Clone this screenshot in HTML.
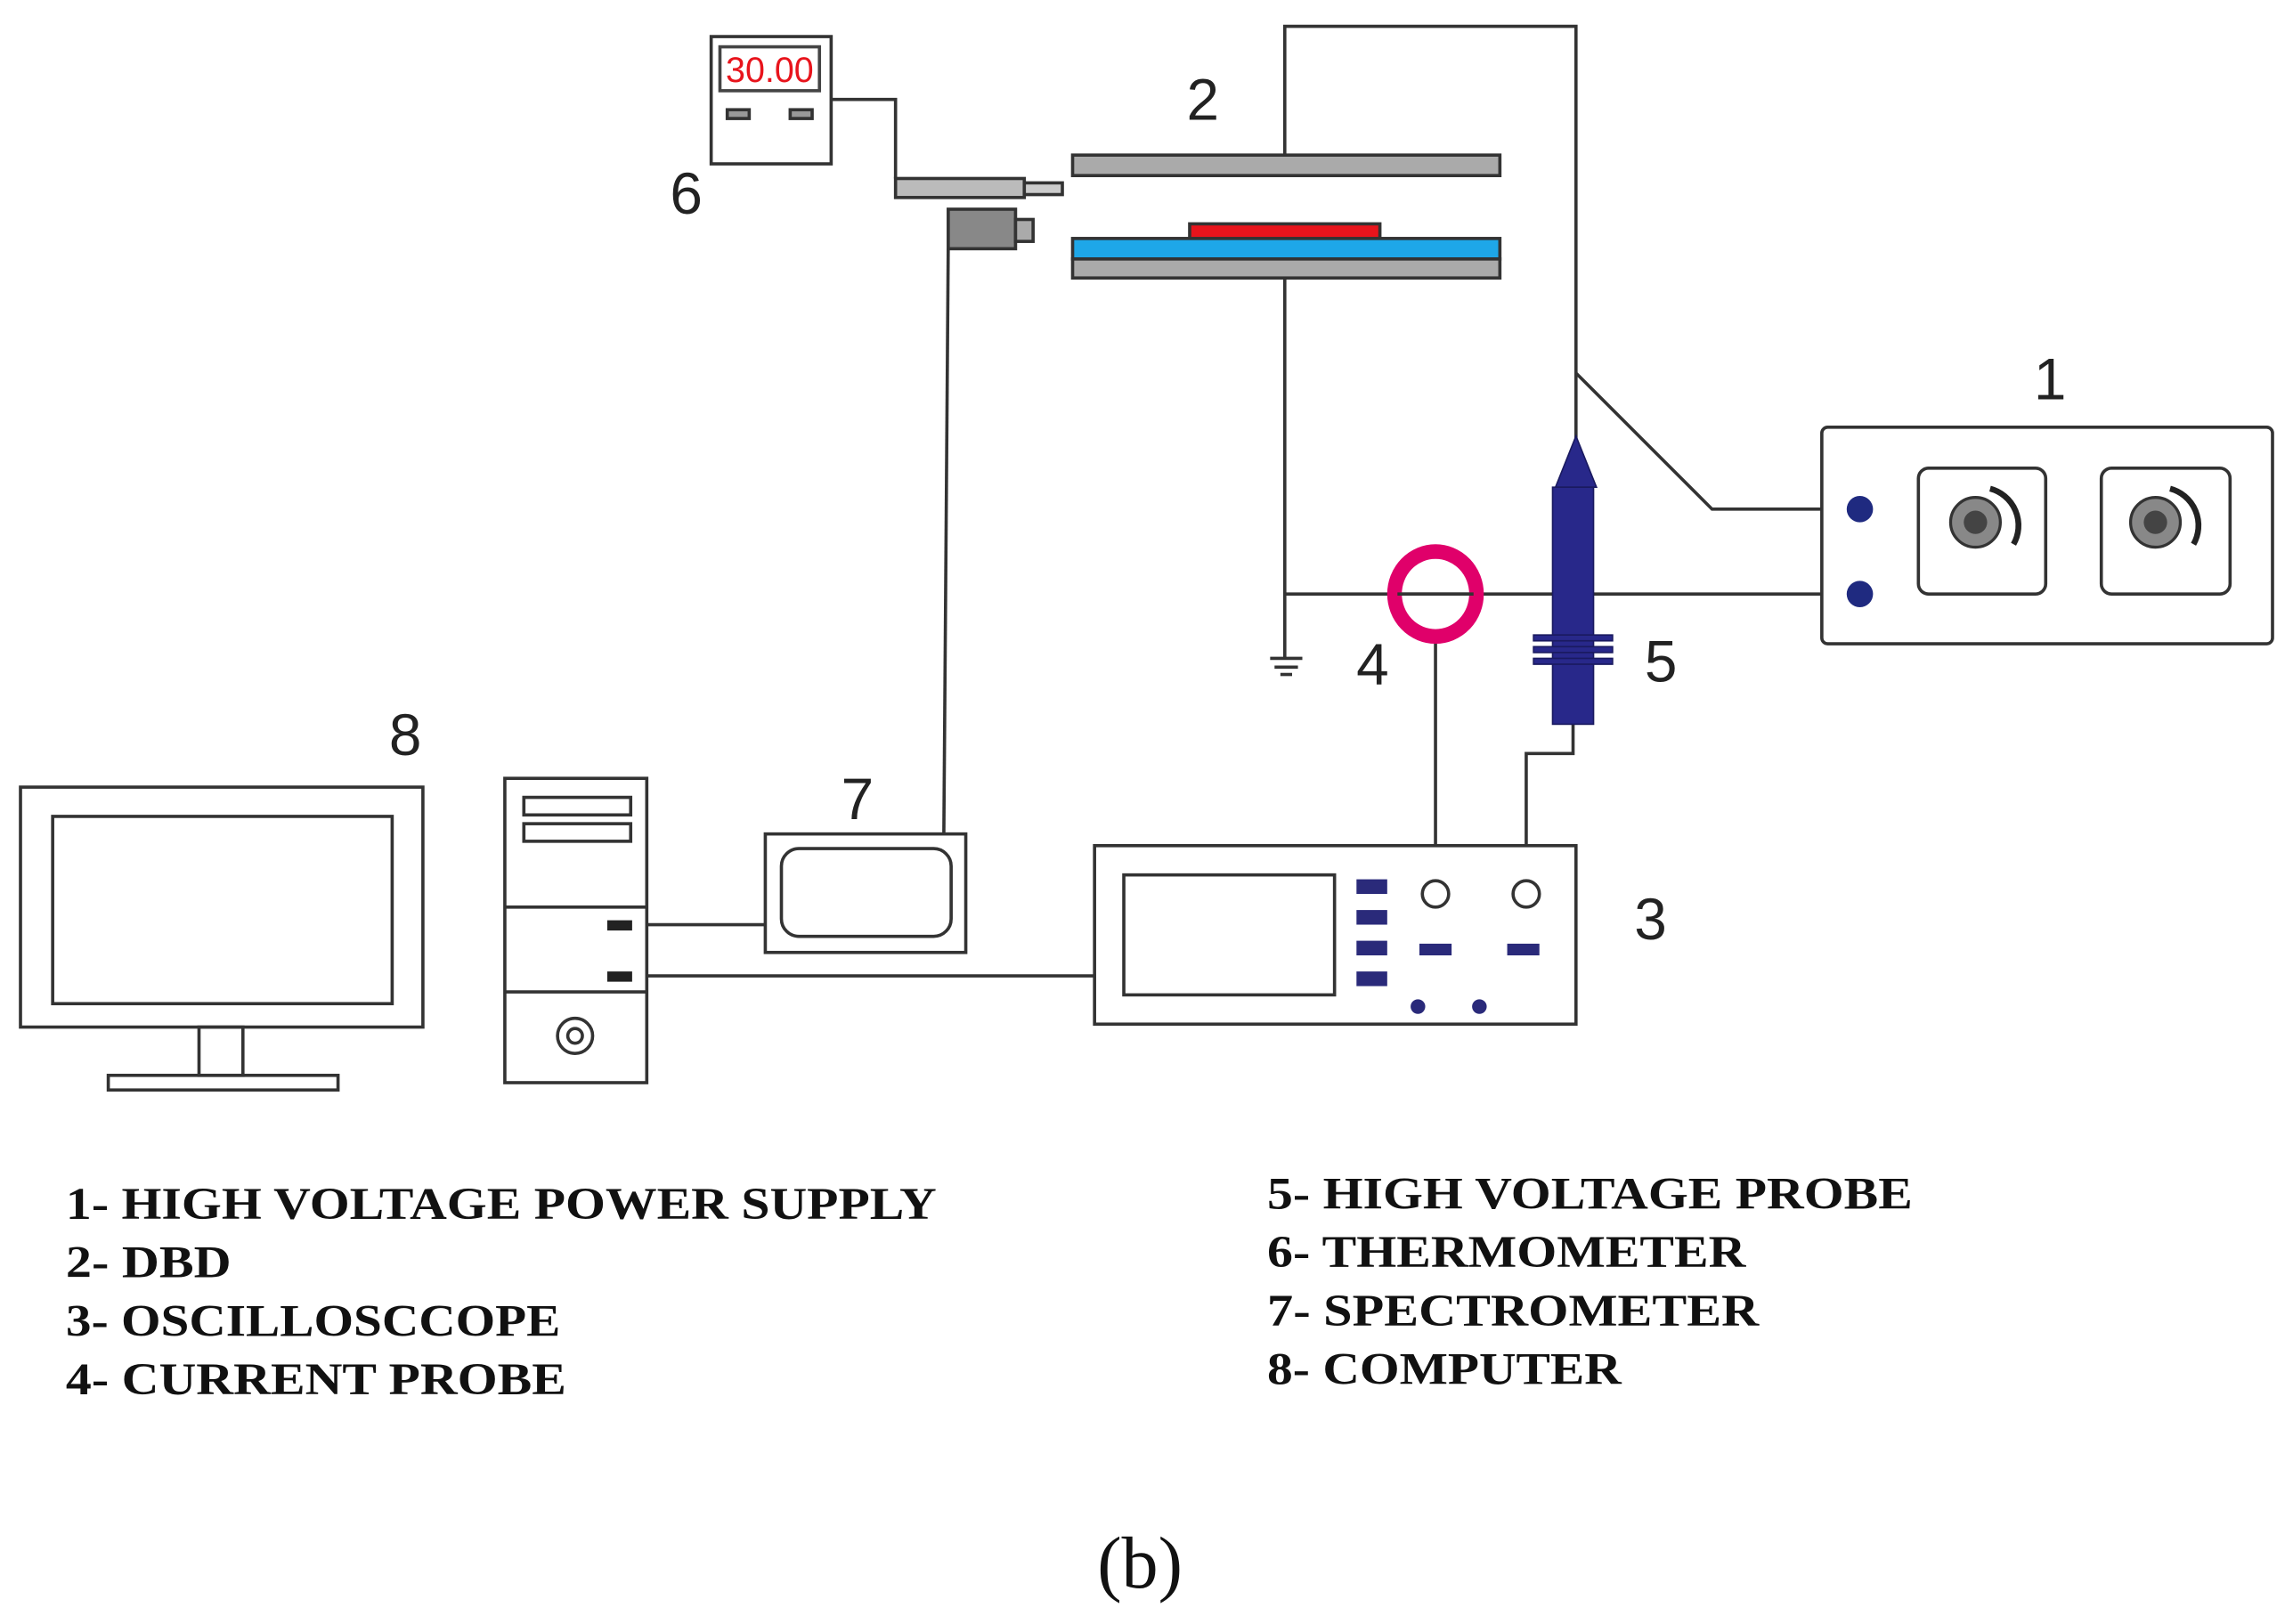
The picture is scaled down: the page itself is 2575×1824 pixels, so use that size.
<!DOCTYPE html>
<html><head><meta charset="utf-8"><style>html,body{margin:0;padding:0;background:#fff}svg{display:block}</style></head>
<body>
<svg width="2575" height="1824" viewBox="0 0 1567 1110" preserveAspectRatio="none" xmlns="http://www.w3.org/2000/svg">
<rect width="1567" height="1110" fill="#fff"/>
<g fill="none" stroke="#333" stroke-width="2.2">
<rect x="486" y="25" width="82" height="87" fill="#fff"/>
<rect x="492" y="32" width="68" height="30" fill="#fff" stroke="#444"/>
<rect x="497" y="75" width="15" height="6" fill="#999"/>
<rect x="540" y="75" width="15" height="6" fill="#999"/>
<polyline points="568,68 612,68 612,122"/>
<rect x="612" y="122" width="88" height="13" fill="#bbb"/>
<rect x="700" y="125" width="26" height="8" fill="#ccc"/>
<rect x="648" y="143" width="46" height="27" fill="#888"/>
<rect x="694" y="150" width="12" height="15" fill="#aaa"/>
<line x1="648" y1="170" x2="645" y2="570"/>
<rect x="733" y="106" width="292" height="14" fill="#aaa"/>
<rect x="813" y="153" width="130" height="11" fill="#e8141c" stroke="#333"/>
<rect x="733" y="163" width="292" height="14" fill="#1ea7e8"/>
<rect x="733" y="177" width="292" height="13" fill="#aaa"/>
<polyline points="878,106 878,18 1077,18 1077,255 1170,348 1262,348"/>
<line x1="1077" y1="255" x2="1077" y2="300"/>
<line x1="878" y1="190" x2="878" y2="450"/>
<line x1="868" y1="450" x2="890" y2="450"/>
<line x1="871" y1="456" x2="887" y2="456"/>
<line x1="875" y1="461" x2="883" y2="461"/>
<line x1="878" y1="406" x2="1262" y2="406"/>
<line x1="981" y1="436" x2="981" y2="602"/>
<ellipse cx="981" cy="406" rx="28" ry="29" stroke="#e0006a" stroke-width="10"/>
<line x1="955" y1="406" x2="1007" y2="406"/>
<polyline points="1075,495 1075,515 1043,515 1043,602"/>
<rect x="1245" y="292" width="308" height="148" rx="4" fill="#fff"/>
<rect x="1311" y="320" width="87" height="86" rx="7" fill="#fff"/>
<rect x="1436" y="320" width="88" height="86" rx="7" fill="#fff"/>
<rect x="748" y="578" width="329" height="122" fill="#fff"/>
<rect x="768" y="598" width="144" height="82" fill="#fff"/>
<circle cx="981" cy="611" r="9" fill="#fff"/>
<circle cx="1043" cy="611" r="9" fill="#fff"/>
<rect x="523" y="570" width="137" height="81" fill="#fff"/>
<rect x="534" y="580" width="116" height="60" rx="12" fill="#fff"/>
<line x1="443" y1="632" x2="523" y2="632"/>
<line x1="443" y1="667" x2="748" y2="667"/>
<rect x="345" y="532" width="97" height="208" fill="#fff"/>
<rect x="358" y="545" width="73" height="12"/>
<rect x="358" y="563" width="73" height="12"/>
<line x1="345" y1="620" x2="442" y2="620"/>
<line x1="345" y1="678" x2="442" y2="678"/>
<circle cx="393" cy="708" r="12"/>
<circle cx="393" cy="708" r="5"/>
<rect x="14" y="538" width="275" height="164" fill="#fff"/>
<rect x="36" y="558" width="232" height="128"/>
<rect x="136" y="702" width="30" height="33"/>
<rect x="74" y="735" width="157" height="10"/>
</g>
<text x="526" y="56" font-family="Liberation Sans, sans-serif" font-size="24" fill="#e8141c" text-anchor="middle">30.00</text>
<g fill="#222">
<rect x="415" y="629" width="17" height="7"/>
<rect x="415" y="664" width="17" height="7"/>
<rect x="970" y="645" width="22" height="8" fill="#2a2a7a"/>
<rect x="1030" y="645" width="22" height="8" fill="#2a2a7a"/>
<rect x="927" y="601" width="21" height="10" fill="#2a2a7a"/>
<rect x="927" y="622" width="21" height="10" fill="#2a2a7a"/>
<rect x="927" y="643" width="21" height="10" fill="#2a2a7a"/>
<rect x="927" y="664" width="21" height="10" fill="#2a2a7a"/>
<circle cx="969" cy="688" r="5" fill="#2a2a7a"/>
<circle cx="1011" cy="688" r="5" fill="#2a2a7a"/>
<circle cx="1271" cy="348" r="9" fill="#1f2a80"/>
<circle cx="1271" cy="406" r="9" fill="#1f2a80"/>
</g>
<g>
<circle cx="1350" cy="357" r="17" fill="#888" stroke="#333" stroke-width="2"/>
<circle cx="1350" cy="357" r="8" fill="#444"/>
<path d="M1360,334 A26,26 0 0 1 1376,372" fill="none" stroke="#222" stroke-width="4"/>
<circle cx="1473" cy="357" r="17" fill="#888" stroke="#333" stroke-width="2"/>
<circle cx="1473" cy="357" r="8" fill="#444"/>
<path d="M1483,334 A26,26 0 0 1 1499,372" fill="none" stroke="#222" stroke-width="4"/>
</g>
<g fill="#28288a" stroke="#1a1a60" stroke-width="1">
<polygon points="1063,333 1077,298 1091,333"/>
<rect x="1061" y="333" width="28" height="162"/>
<rect x="1048" y="434" width="54" height="4"/>
<rect x="1048" y="442" width="54" height="4"/>
<rect x="1048" y="450" width="54" height="4"/>
</g>
<g font-family="Liberation Sans, sans-serif" font-size="40" fill="#222" text-anchor="middle">
<text x="822" y="82">2</text>
<text x="469" y="146">6</text>
<text x="1401" y="273">1</text>
<text x="938" y="468">4</text>
<text x="1135" y="466">5</text>
<text x="1128" y="642">3</text>
<text x="586" y="560">7</text>
<text x="277" y="516">8</text>
</g>
<g font-family="Liberation Serif, serif" font-weight="bold" font-size="31" fill="#111">
<text x="45" y="833" textLength="595" lengthAdjust="spacingAndGlyphs">1- HIGH VOLTAGE POWER SUPPLY</text>
<text x="45" y="873" textLength="113" lengthAdjust="spacingAndGlyphs">2- DBD</text>
<text x="45" y="913" textLength="338" lengthAdjust="spacingAndGlyphs">3- OSCILLOSCCOPE</text>
<text x="45" y="953" textLength="342" lengthAdjust="spacingAndGlyphs">4- CURRENT PROBE</text>
<text x="866" y="826" textLength="441" lengthAdjust="spacingAndGlyphs">5- HIGH VOLTAGE PROBE</text>
<text x="866" y="866" textLength="327" lengthAdjust="spacingAndGlyphs">6- THERMOMETER</text>
<text x="866" y="906" textLength="336" lengthAdjust="spacingAndGlyphs">7- SPECTROMETER</text>
<text x="866" y="946" textLength="242" lengthAdjust="spacingAndGlyphs">8- COMPUTER</text>
</g>
<text x="779" y="1085" font-family="Liberation Serif, serif" font-size="50" fill="#111" text-anchor="middle">(b)</text>
</svg>
</body></html>
